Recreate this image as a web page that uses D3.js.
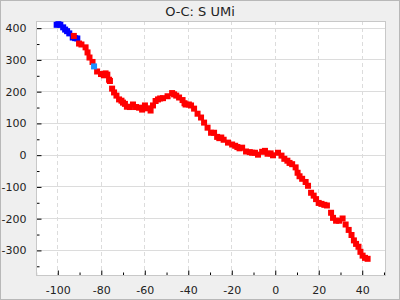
<!DOCTYPE html>
<head>
  <meta charset="utf-8">
  <script src="https://d3js.org/d3.v7.min.js"></script>
  <style>
    body { margin: 0; }
    svg { display: block; font-family: "DejaVu Sans", sans-serif; }
    .tick text { fill: #222; font-size: 11px; }
  </style>
</head>
<body>
  <svg width="400" height="300" id="chart"></svg>
  <script>
    // O-C values
    const title = "O-C: S UMi";

    const blueX = [-100.3, -99.5, -98.6, -97.3, -96.4, -95.5, -94.5, -92.9, -91.8, -90.8];
    const blueY = [409, 411, 409, 401, 394, 389, 382, 369, 367, 366];

    const lightX = [-83.1];
    const lightY = [278];

    const redX = [-92.4, -90, -88.9, -87, -86.1, -85.2, -83.8, -81.7, -79.9, -78.6, -77.8, -77,
      -76.2, -75.8, -74.8, -73.9, -72.8, -71.6, -70.5, -69.8, -68.9, -68, -66.6, -65.2, -63.8,
      -62.4, -61, -59.7, -58.7, -57.1, -56, -54.8, -53.7, -52.7, -51.4, -49.3, -47.2, -46.3,
      -45.3, -44, -42.4, -41.5, -41, -39.5, -38.5, -37.1, -35.5, -33.9, -32.5, -30.9, -29.3,
      -27.9, -26.5, -25.5, -24.6, -23.5, -21.5, -19.6, -18.2, -17.2, -16.2, -15, -13.2, -11.5,
      -10.4, -9.1, -7.7, -5.8, -4.5, -3.3, -1.9, -0.8, 1.5, 3.1, 4.4, 5.8, 6.8, 8, 9.6, 10.5,
      11.4, 12.6, 14.2, 15.3, 16.7, 17.9, 19, 20.2, 21.5, 22.8, 24, 25.9, 26.8, 28.2, 29.6,
      31.2, 32.6, 34, 35.3, 36.4, 37.4, 38.5, 39.4, 40.4, 41.5, 42.7];
    const redY = [374, 350, 347, 338, 322, 306, 292, 262, 254, 250, 256, 252,
      236, 232, 208, 196, 186, 174, 170, 164, 160, 151, 150, 158, 150,
      148, 142, 155, 146, 139, 155, 169, 174, 177, 178, 184, 194, 190,
      186, 180, 172, 162, 158, 158, 155, 145, 129, 117, 101, 85, 69,
      69, 56, 52, 54, 47, 38, 32, 28, 24, 20, 22, 10, 8,
      6, 6, 0, 9, 12, 3, 4, -2, 6, -3, -13, -19, -26, -30, -40, -57,
      -68, -76, -86, -98, -120, -129, -140, -152, -155, -158, -160, -183, -199, -208, -208,
      -201, -220, -237, -253, -270, -281, -290, -306, -318, -325, -328];

    const xTicks = [-100, -80, -60, -40, -20, 0, 20, 40];
    const yTicks = [-300, -200, -100, 0, 100, 200, 300, 400];

    const W = 400, H = 300;
    const pLeft = 36, pRight = 385, pTop = 21, pBottom = 275;

    const svg = d3.select("#chart");

    // outer frame
    svg.append("rect").attr("x", 0.5).attr("y", 0.5).attr("width", W - 1).attr("height", H - 1)
      .attr("fill", "#efefef").attr("stroke", "#b8b8b8");

    svg.append("rect").attr("x", pLeft + 0.5).attr("y", pTop + 0.5)
      .attr("width", pRight - pLeft).attr("height", pBottom - pTop)
      .attr("fill", "#fff");

    svg.append("text").attr("x", 200).attr("y", 16).attr("text-anchor", "middle")
      .attr("font-size", 13).attr("fill", "#222").text(title);

    const x = d3.scaleLinear().domain([-109.8, 50.7]).range([pLeft, pRight]);
    const y = d3.scaleLinear().domain([-379, 421]).range([pBottom, pTop]);
    const fmt = d => String(d);   // plain hyphen, not the unicode minus

    // grid
    svg.append("g").selectAll("line").data(yTicks).join("line")
      .attr("x1", pLeft).attr("x2", pRight)
      .attr("y1", d => Math.round(y(d)) + 0.5).attr("y2", d => Math.round(y(d)) + 0.5)
      .attr("stroke", "#dcdcdc");
    svg.append("g").selectAll("line").data(xTicks).join("line")
      .attr("x1", d => Math.round(x(d)) + 0.5).attr("x2", d => Math.round(x(d)) + 0.5)
      .attr("y1", pTop).attr("y2", pBottom)
      .attr("stroke", "#dcdcdc").attr("stroke-dasharray", "4,3");

    // axes with inward ticks
    svg.append("g").attr("transform", `translate(0.5,${pBottom + 0.5})`)
      .call(d3.axisBottom(x).tickValues(xTicks).tickSize(-5).tickPadding(11).tickFormat(fmt));
    svg.append("g").attr("transform", `translate(0.5,${pBottom + 0.5})`)
      .call(d3.axisBottom(x).tickValues(d3.range(-110, 51, 10).filter(v => v % 20 !== 0)).tickSize(-3).tickFormat(""));
    svg.append("g").attr("transform", `translate(${pLeft + 0.5},0.5)`)
      .call(d3.axisLeft(y).tickValues(yTicks).tickSize(-5).tickPadding(10).tickFormat(fmt));
    svg.append("g").attr("transform", `translate(${pLeft + 0.5},0.5)`)
      .call(d3.axisLeft(y).tickValues(d3.range(-350, 421, 100)).tickSize(-3).tickFormat(""));
    svg.selectAll(".domain").remove();
    svg.selectAll(".tick line").attr("stroke", "#000");
    svg.selectAll(".tick text").attr("font-family", "DejaVu Sans");

    // plot border
    svg.append("rect").attr("x", pLeft + 0.5).attr("y", pTop + 0.5)
      .attr("width", pRight - pLeft).attr("height", pBottom - pTop)
      .attr("fill", "none").attr("stroke", "#c8c8c8");

    const s = 6;
    function squares(xs, ys, color) {
      svg.append("g").selectAll("rect").data(xs.map((v, i) => [v, ys[i]])).join("rect")
        .attr("x", d => x(d[0]) - s / 2).attr("y", d => y(d[1]) - s / 2)
        .attr("width", s).attr("height", s).attr("fill", color);
    }
    squares(blueX, blueY, "#0000ff");
    squares(redX, redY, "#ff0000");
    squares(lightX, lightY, "#1e90ff");
  </script>
</body>
